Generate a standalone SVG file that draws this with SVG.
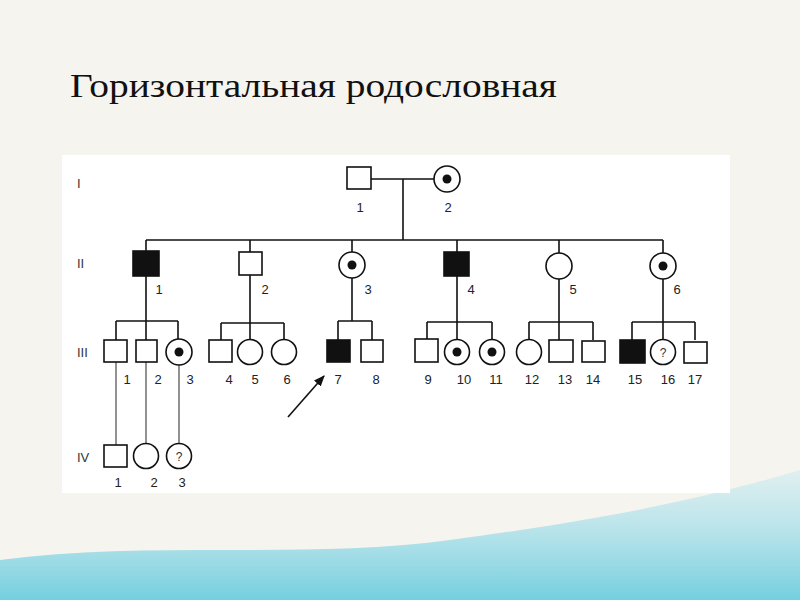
<svg xmlns="http://www.w3.org/2000/svg" width="800" height="600" viewBox="0 0 800 600">
<defs>
<linearGradient id="wave" x1="0" y1="0" x2="0" y2="1">
<stop offset="0" stop-color="#bfe8f0" stop-opacity="0.5"/>
<stop offset="1" stop-color="#5cc8dc"/>
</linearGradient>
<marker id="ah" viewBox="0 0 10 10" refX="9" refY="5" markerWidth="7" markerHeight="7" orient="auto">
<path d="M0,1 L10,5 L0,9 z" fill="#111"/>
</marker>
<style>
.sq{fill:#fff;stroke:#111;stroke-width:1.6}
.af{fill:#111;stroke:#111;stroke-width:1.6}
.ci{fill:#fff;stroke:#111;stroke-width:1.6}
.dot{fill:#111}
.ln{fill:none;stroke:#111;stroke-width:1.6}
.gl{fill:none;stroke:#777;stroke-width:1.6}
.lb{font-family:"Liberation Sans",Arial,sans-serif;font-size:13px;fill:#222;text-anchor:middle}
.rm{font-family:"Liberation Sans",Arial,sans-serif;font-size:13px;fill:#333}
.q{font-family:"Liberation Sans",Arial,sans-serif;font-size:12px;fill:#333;text-anchor:middle}
</style>
</defs>
<rect width="800" height="600" fill="#f6f4ef"/>
<path d="M0,560 C150,540 300,560 450,540 C600,520 700,500 800,470 L800,600 L0,600 z" fill="url(#wave)" opacity="0.85"/>
<rect x="62" y="155" width="668" height="338" fill="#fff"/>
<text x="70" y="97" font-family="'Liberation Serif','Times New Roman',serif" font-size="33" fill="#111" textLength="487" lengthAdjust="spacingAndGlyphs">Горизонтальная родословная</text>

<g id="roman">
<text class="rm" x="77" y="188">I</text>
<text class="rm" x="77" y="268">II</text>
<text class="rm" x="77" y="357">III</text>
<text class="rm" x="77" y="462">IV</text>
</g>

<g id="connectors">
<path class="ln" d="M371,179 H434 M403,179 V240 M146,240 H663"/>
<path class="ln" d="M146,240 V251 M250,240 V252 M352,240 V252 M457,240 V252 M559,240 V253 M663,240 V253"/>
<path class="ln" d="M146,276 V340 M116,321 H178 M116,321 V340 M178,321 V339"/>
<path class="ln" d="M250,275 V339 M221,323 H284 M221,323 V340 M284,323 V339"/>
<path class="ln" d="M352,278 V321 M338,321 H372 M338,321 V340 M372,321 V340"/>
<path class="ln" d="M457,276 V339 M427,322 H492 M427,322 V339 M492,322 V339"/>
<path class="ln" d="M559,279 V340 M529,322 H593 M529,322 V339 M593,322 V340"/>
<path class="ln" d="M663,279 V339 M632,322 H695 M632,322 V340 M695,322 V340"/>
<path class="gl" d="M116,362 V445 M146,362 V443 M179,365 V443"/>
<path class="ln" d="M288,417 L324,376" marker-end="url(#ah)"/>
</g>

<g id="I-1"><rect class="sq" x="347" y="167" width="24" height="22"/><text class="lb" x="360" y="212">1</text></g>
<g id="I-2"><circle class="ci" cx="447" cy="179" r="13"/><circle class="dot" cx="447" cy="179" r="4.5"/><text class="lb" x="448" y="212">2</text></g>

<g id="II-1"><rect class="af" x="133" y="251" width="26" height="25"/><text class="lb" x="159" y="294">1</text></g>
<g id="II-2"><rect class="sq" x="239" y="252" width="23" height="23"/><text class="lb" x="265" y="294">2</text></g>
<g id="II-3"><circle class="ci" cx="352" cy="265" r="13"/><circle class="dot" cx="352" cy="265" r="4.5"/><text class="lb" x="368" y="294">3</text></g>
<g id="II-4"><rect class="af" x="444" y="252" width="25" height="24"/><text class="lb" x="471" y="294">4</text></g>
<g id="II-5"><circle class="ci" cx="559" cy="266" r="13"/><text class="lb" x="573" y="294">5</text></g>
<g id="II-6"><circle class="ci" cx="663" cy="266" r="13"/><circle class="dot" cx="663" cy="266" r="4.5"/><text class="lb" x="677" y="294">6</text></g>

<g id="III-1"><rect class="sq" x="104" y="340" width="23" height="22"/><text class="lb" x="127" y="384">1</text></g>
<g id="III-2"><rect class="sq" x="136" y="340" width="21" height="22"/><text class="lb" x="158" y="384">2</text></g>
<g id="III-3"><circle class="ci" cx="179" cy="352" r="13"/><circle class="dot" cx="179" cy="352" r="4.5"/><text class="lb" x="190" y="384">3</text></g>
<g id="III-4"><rect class="sq" x="209" y="340" width="23" height="22"/><text class="lb" x="229" y="384">4</text></g>
<g id="III-5"><circle class="ci" cx="250" cy="352" r="12.5"/><text class="lb" x="255" y="384">5</text></g>
<g id="III-6"><circle class="ci" cx="284" cy="352" r="12.5"/><text class="lb" x="287" y="384">6</text></g>
<g id="III-7"><rect class="af" x="327" y="340" width="23" height="22"/><text class="lb" x="338" y="384">7</text></g>
<g id="III-8"><rect class="sq" x="361" y="340" width="22" height="22"/><text class="lb" x="376" y="384">8</text></g>
<g id="III-9"><rect class="sq" x="415" y="339" width="23" height="23"/><text class="lb" x="428" y="384">9</text></g>
<g id="III-10"><circle class="ci" cx="457" cy="352" r="12.5"/><circle class="dot" cx="457" cy="352" r="4.5"/><text class="lb" x="464" y="384">10</text></g>
<g id="III-11"><circle class="ci" cx="492" cy="352" r="12.5"/><circle class="dot" cx="492" cy="352" r="4.5"/><text class="lb" x="496" y="384">11</text></g>
<g id="III-12"><circle class="ci" cx="529" cy="352" r="12.5"/><text class="lb" x="532" y="384">12</text></g>
<g id="III-13"><rect class="sq" x="549" y="340" width="24" height="22"/><text class="lb" x="565" y="384">13</text></g>
<g id="III-14"><rect class="sq" x="582" y="341" width="23" height="21"/><text class="lb" x="593" y="384">14</text></g>
<g id="III-15"><rect class="af" x="620" y="340" width="25" height="23"/><text class="lb" x="635" y="384">15</text></g>
<g id="III-16"><circle class="ci" cx="663" cy="352" r="12.5"/><text class="q" x="663" y="357">?</text><text class="lb" x="668" y="384">16</text></g>
<g id="III-17"><rect class="sq" x="684" y="342" width="23" height="21"/><text class="lb" x="695" y="384">17</text></g>

<g id="IV-1"><rect class="sq" x="104" y="445" width="23" height="22"/><text class="lb" x="118" y="487">1</text></g>
<g id="IV-2"><circle class="ci" cx="146" cy="456" r="12.5"/><text class="lb" x="154" y="487">2</text></g>
<g id="IV-3"><circle class="ci" cx="179" cy="456" r="12.5"/><text class="q" x="179" y="461">?</text><text class="lb" x="182" y="487">3</text></g>
</svg>
